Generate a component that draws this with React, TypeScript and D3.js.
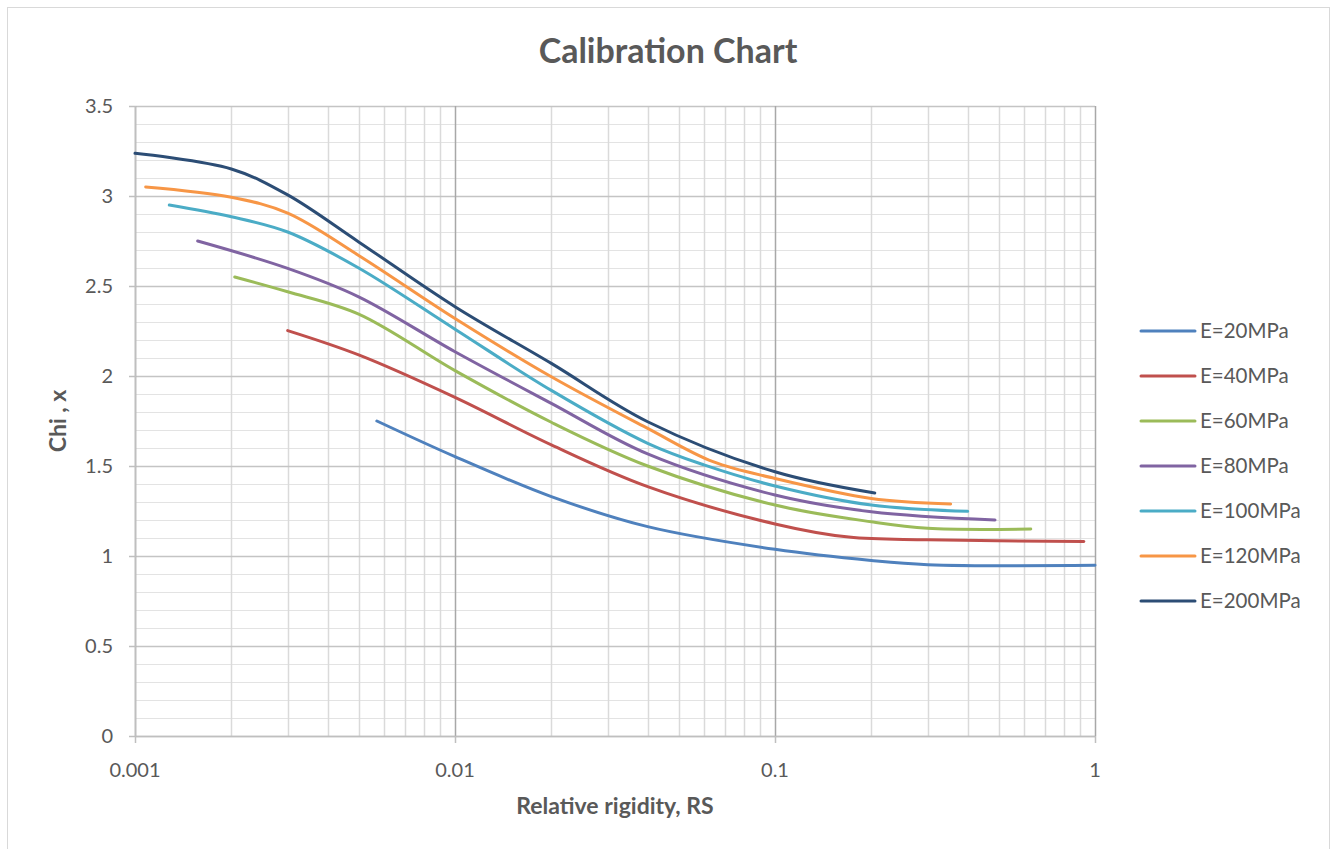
import React from "react";
import * as d3 from "d3";

const seriesNames = ["E=20MPa", "E=40MPa", "E=60MPa", "E=80MPa", "E=100MPa", "E=120MPa", "E=200MPa"];
const seriesColors = ["#4F81BD", "#C0504D", "#9BBB59", "#8064A2", "#4BACC6", "#F79646", "#2C4D75"];

const e20: [number, number][] = [[0.0057,1.75],[0.01,1.552],[0.02,1.33],[0.04,1.163],[0.1,1.037],[0.2,0.975],[0.3,0.952],[1.0,0.948]];
const e40: [number, number][] = [[0.003,2.252],[0.005,2.117],[0.01,1.881],[0.02,1.617],[0.04,1.385],[0.1,1.178],[0.17,1.105],[0.3,1.09],[0.923,1.08]];
const e60: [number, number][] = [[0.00205,2.55],[0.003,2.468],[0.005,2.344],[0.01,2.03],[0.02,1.743],[0.04,1.5],[0.1,1.283],[0.2,1.19],[0.3,1.154],[0.63,1.15]];
const e80: [number, number][] = [[0.00157,2.75],[0.003,2.598],[0.005,2.44],[0.01,2.135],[0.02,1.848],[0.04,1.567],[0.1,1.339],[0.2,1.246],[0.487,1.2]];
const e100: [number, number][] = [[0.00128,2.95],[0.002,2.885],[0.003,2.8],[0.005,2.6],[0.01,2.26],[0.02,1.92],[0.04,1.626],[0.06,1.506],[0.1,1.389],[0.2,1.283],[0.4,1.248]];
const e120: [number, number][] = [[0.00108,3.05],[0.002,2.993],[0.003,2.905],[0.005,2.67],[0.01,2.32],[0.02,1.996],[0.04,1.709],[0.064,1.524],[0.1,1.431],[0.2,1.32],[0.354,1.289]];
const e200: [number, number][] = [[0.001,3.237],[0.002,3.15],[0.003,3.006],[0.005,2.745],[0.01,2.385],[0.02,2.07],[0.04,1.746],[0.1,1.468],[0.205,1.35]];
const seriesData = [e20, e40, e60, e80, e100, e120, e200];

const xTickValues = [0.001, 0.01, 0.1, 1];
const xTickLabels = ["0.001", "0.01", "0.1", "1"];
const yTickValues = [0, 0.5, 1, 1.5, 2, 2.5, 3, 3.5];
const yTickLabels = ["0", "0.5", "1", "1.5", "2", "2.5", "3", "3.5"];

const FONT = "Lato, 'Open Sans', sans-serif";
const TXT = "#595959";

export default function App() {
  const W = 1338, H = 849;
  const left = 135, right = 1095, top = 106, bottom = 736;
  const x = d3.scaleLog().domain([0.001, 1]).range([left, right]);
  const y = d3.scaleLinear().domain([0, 3.5]).range([bottom, top]);

  const minorX: number[] = [];
  for (let d = 0.001; d < 1; d *= 10) {
    for (let k = 2; k <= 9; k++) minorX.push(d * k);
  }
  const minorY = d3.range(0, 36).map((i) => i / 10).filter((v) => Math.round(v * 10) % 5 !== 0);

  const line = d3
    .line<[number, number]>()
    .x((d) => x(d[0]))
    .y((d) => y(d[1]))
    .curve(d3.curveCatmullRom.alpha(0.5));

  return (
    <svg width={W} height={H} style={{ position: "absolute", left: 0, top: 0, background: "#fff" }} fontFamily={FONT}>
      <rect x={7.5} y={7.5} width={1322} height={H} fill="#fff" stroke="#d9d9d9" strokeWidth={1} />
      <text x={668} y={63} textAnchor="middle" fontSize={34} fontWeight="bold" fill={TXT}>Calibration Chart</text>

      {minorY.map((v) => (
        <line key={"my" + v} x1={left} x2={right} y1={Math.round(y(v)) + 0.5} y2={Math.round(y(v)) + 0.5} stroke="#e3e3e3" strokeWidth={1} />
      ))}
      {minorX.map((v, i) => (
        <line key={"mx" + i} x1={Math.round(x(v)) + 0.5} x2={Math.round(x(v)) + 0.5} y1={top} y2={bottom} stroke="#dadada" strokeWidth={1.5} />
      ))}
      {yTickValues.map((v) => (
        <line key={"gy" + v} x1={left} x2={right} y1={Math.round(y(v)) + 0.5} y2={Math.round(y(v)) + 0.5} stroke="#c4c4c4" strokeWidth={1.5} />
      ))}
      {xTickValues.map((v) => (
        <line key={"gx" + v} x1={Math.round(x(v)) + 0.5} x2={Math.round(x(v)) + 0.5} y1={top} y2={bottom} stroke="#a8a8a8" strokeWidth={1.5} />
      ))}
      <line x1={left + 0.5} x2={left + 0.5} y1={top} y2={bottom} stroke="#bfbfbf" strokeWidth={1.5} />
      <line x1={left} x2={right} y1={bottom + 0.5} y2={bottom + 0.5} stroke="#bfbfbf" strokeWidth={1.5} />

      {yTickValues.map((v, i) => (
        <g key={"yt" + v}>
          <line x1={left - 6} x2={left} y1={Math.round(y(v)) + 0.5} y2={Math.round(y(v)) + 0.5} stroke="#bfbfbf" strokeWidth={1.5} />
          <text x={113} y={y(v) + 7} textAnchor="end" fontSize={20} fill={TXT}>{yTickLabels[i]}</text>
        </g>
      ))}
      {xTickValues.map((v, i) => (
        <g key={"xt" + v}>
          <line x1={Math.round(x(v)) + 0.5} x2={Math.round(x(v)) + 0.5} y1={bottom} y2={bottom + 7} stroke="#bfbfbf" strokeWidth={1.5} />
          <text x={x(v)} y={777} textAnchor="middle" fontSize={20} fill={TXT}>{xTickLabels[i]}</text>
        </g>
      ))}

      {seriesData.map((s, i) => (
        <path key={"s" + i} d={line(s) || ""} fill="none" stroke={seriesColors[i]} strokeWidth={3} strokeLinecap="round" strokeLinejoin="round" />
      ))}

      <text x={615} y={814} textAnchor="middle" fontSize={23} fontWeight="bold" fill={TXT}>Relative rigidity, RS</text>
      <text transform="translate(66,421) rotate(-90)" textAnchor="middle" fontSize={23} fontWeight="bold" fill={TXT}>Chi , x</text>

      {seriesNames.map((n, i) => (
        <g key={"lg" + i}>
          <line x1={1141} x2={1195} y1={331 + i * 45} y2={331 + i * 45} stroke={seriesColors[i]} strokeWidth={3} strokeLinecap="round" />
          <text x={1200} y={331 + i * 45 + 7} fontSize={20.5} fill={TXT}>{n}</text>
        </g>
      ))}
    </svg>
  );
}
